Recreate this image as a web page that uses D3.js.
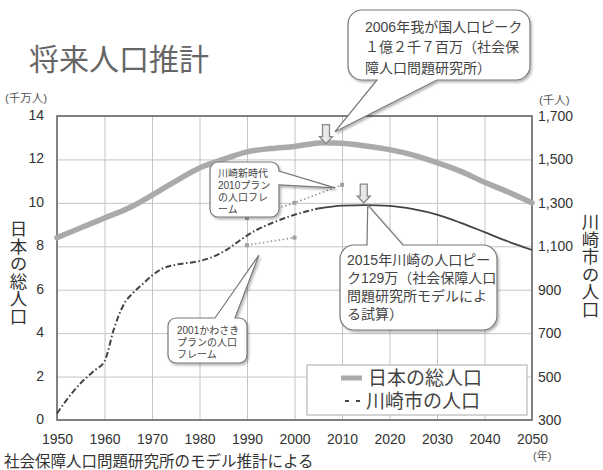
<!DOCTYPE html>
<html><head><meta charset="utf-8">
<script src="https://cdn.jsdelivr.net/npm/d3@7"></script>
<style>
body{margin:0;background:#fff}
svg{display:block}
text{font-family:"Liberation Sans","Noto Sans CJK JP",sans-serif;fill:#3c3c3c}
</style></head><body>
<svg id="chart" width="603" height="470"></svg>
<script>
// Axis ticks
const yearTicks = [1950,1960,1970,1980,1990,2000,2010,2020,2030,2040,2050];
const japanTicks = [0,2,4,6,8,10,12,14];           // 千万人
const kawasakiTicks = [300,500,700,900,1100,1300,1500,1700]; // 千人

// 日本の総人口 (千万人)
const japanYears  = [1950,1955,1960,1965,1970,1975,1980,1985,1990,1995,2000,2006,2010,2015,2020,2025,2030,2035,2040,2045,2050];
const japanValues = [8.4,8.85,9.3,9.75,10.35,11.0,11.6,12.0,12.35,12.5,12.6,12.77,12.75,12.62,12.45,12.2,11.85,11.45,10.95,10.5,10.0];

// 川崎市の人口 (千人) — 実績 (破線)
const kawasakiPastYears  = [1950,1953,1955,1958,1960,1962,1964,1966,1968,1970,1972,1975,1980,1983,1986,1989,1992,1995,2000,2005];
const kawasakiPastValues = [330,420,470,530,570,720,830,885,925,965,995,1015,1032,1053,1088,1135,1175,1205,1245,1274];
// 川崎市の人口 (千人) — 推計 (実線)
const kawasakiFutureYears  = [2005,2010,2015,2020,2025,2030,2035,2040,2045,2050];
const kawasakiFutureValues = [1274,1287,1290,1286,1271,1246,1208,1165,1122,1083];

// 計画の人口フレーム (千人)
const plan2010Years  = [1990,2000,2010];
const plan2010Values = [1230,1300,1383];
const plan2001Years  = [1990,2000];
const plan2001Values = [1105,1140];

// ピーク
const japanPeakYear = 2006, japanPeakValue = 12.77;
const kawasakiPeakYear = 2015, kawasakiPeakValue = 1290;

const svg = d3.select("#chart");
const L = 57, R = 532, T = 116, B = 420;

const x  = d3.scaleLinear().domain([1950,2050]).range([L,R]);
const yL = d3.scaleLinear().domain([0,14]).range([B,T]);
const yR = d3.scaleLinear().domain([300,1700]).range([B,T]);

const defs = svg.append("defs");
defs.append("filter").attr("id","shadow").attr("x","-10%").attr("y","-10%").attr("width","130%").attr("height","130%")
  .append("feDropShadow").attr("dx",1.5).attr("dy",2).attr("stdDeviation",1.3)
  .attr("flood-color","#000").attr("flood-opacity",0.28);

// Title
svg.append("text").attr("x",29).attr("y",70).attr("font-size",30)
  .style("fill","#666").text("将来人口推計");

// Grid + axes
const gx = svg.append("g").attr("transform",`translate(0,${B})`)
  .call(d3.axisBottom(x).tickValues(yearTicks).tickSize(-(B-T)).tickPadding(14).tickFormat(d3.format("d")));
const gl = svg.append("g").attr("transform",`translate(${L},0)`)
  .call(d3.axisLeft(yL).tickValues(japanTicks).tickSize(-(R-L)).tickPadding(13));
const gr = svg.append("g").attr("transform",`translate(${R},0)`)
  .call(d3.axisRight(yR).tickValues(kawasakiTicks).tickSize(0).tickPadding(6).tickFormat(d3.format(",")));
[gx,gl,gr].forEach(g=>{
  g.attr("font-family",null);
  g.select(".domain").remove();
  g.selectAll(".tick line").attr("stroke","#c4c4c4").attr("stroke-width",1);
  g.selectAll(".tick text").attr("font-size",14).style("fill","#333");
});
gl.selectAll(".tick text").attr("y",-1);
gr.selectAll(".tick text").attr("y",0);

// Plot frame
svg.append("rect").attr("x",L).attr("y",T).attr("width",R-L).attr("height",B-T)
  .attr("fill","none").attr("stroke","#777").attr("stroke-width",1.8);

// Units and axis titles
svg.append("text").attr("x",5).attr("y",102).attr("font-size",11.5).style("fill","#555").text("(千万人)");
svg.append("text").attr("x",539).attr("y",104).attr("font-size",11.5).style("fill","#555").text("(千人)");
svg.append("text").attr("x",533).attr("y",460).attr("font-size",11).style("fill","#555").text("(年)");
svg.append("text").attr("x",17).attr("y",220).attr("font-size",17.5)
  .style("writing-mode","vertical-rl").style("fill","#333").text("日本の総人口");
svg.append("text").attr("x",589).attr("y",213).attr("font-size",17.5)
  .style("writing-mode","vertical-rl").style("fill","#333").text("川崎市の人口");
svg.append("text").attr("x",4).attr("y",467).attr("font-size",15.5).style("fill","#333")
  .text("社会保障人口問題研究所のモデル推計による");

// Plan frames (dotted)
function planLine(yrs, vals){
  const pts = yrs.map((d,i)=>[x(d), yR(vals[i])]);
  svg.append("path").attr("d",d3.line()(pts)).attr("fill","none")
    .attr("stroke","#999").attr("stroke-width",1.6).attr("stroke-dasharray","1.6,2.4");
  svg.append("g").selectAll("rect").data(pts).join("rect")
    .attr("x",d=>d[0]-2).attr("y",d=>d[1]-2).attr("width",4).attr("height",4).attr("fill","#a0a0a0");
}
planLine(plan2010Years, plan2010Values);
planLine(plan2001Years, plan2001Values);

// Japan total population
svg.append("path")
  .attr("d", d3.line().curve(d3.curveMonotoneX)(japanYears.map((d,i)=>[x(d), yL(japanValues[i])])))
  .attr("fill","none").attr("stroke","#aaa").attr("stroke-width",5.5).attr("stroke-linecap","round");

// Kawasaki population
svg.append("path")
  .attr("d", d3.line().curve(d3.curveMonotoneX)(kawasakiPastYears.map((d,i)=>[x(d), yR(kawasakiPastValues[i])])))
  .attr("fill","none").attr("stroke","#444").attr("stroke-width",2).attr("stroke-dasharray","6,2.5,1.5,2.5");
svg.append("path")
  .attr("d", d3.line().curve(d3.curveMonotoneX)(kawasakiFutureYears.map((d,i)=>[x(d), yR(kawasakiFutureValues[i])])))
  .attr("fill","none").attr("stroke","#444").attr("stroke-width",1.8);

// Peak markers (hollow down arrows)
function downArrow(cx, tipY){
  const p = d3.path();
  p.moveTo(cx-3.5, tipY-19); p.lineTo(cx+3.5, tipY-19); p.lineTo(cx+3.5, tipY-7);
  p.lineTo(cx+6.5, tipY-7); p.lineTo(cx, tipY); p.lineTo(cx-6.5, tipY-7);
  p.lineTo(cx-3.5, tipY-7); p.closePath();
  svg.append("path").attr("d",p.toString()).attr("fill","#e8e8e8").attr("stroke","#888").attr("stroke-width",1.3);
}
downArrow(x(japanPeakYear)+3, yL(japanPeakValue)+1);
downArrow(x(kawasakiPeakYear)-2, yR(kawasakiPeakValue)-2);

// Speech-bubble callouts
function callout(box, r, side, base, tip, lines, fs, lh, tx, ty){
  const [x0,y0,x1,y1] = box;
  let d = `M${x0+r},${y0}`;
  if (side==="top") d += `H${base[0]}L${tip[0]},${tip[1]}L${base[1]},${y0}`;
  d += `H${x1-r}A${r},${r} 0 0 1 ${x1},${y0+r}`;
  if (side==="right") d += `V${base[0]}L${tip[0]},${tip[1]}L${x1},${base[1]}`;
  d += `V${y1-r}A${r},${r} 0 0 1 ${x1-r},${y1}`;
  if (side==="bottom") d += `H${base[1]}L${tip[0]},${tip[1]}L${base[0]},${y1}`;
  d += `H${x0+r}A${r},${r} 0 0 1 ${x0},${y1-r}V${y0+r}A${r},${r} 0 0 1 ${x0+r},${y0}Z`;
  svg.append("path").attr("d",d).attr("fill","#fff").attr("stroke","#777")
    .attr("stroke-width",1.2).attr("filter","url(#shadow)");
  svg.append("text").attr("font-size",fs).style("fill","#444")
    .selectAll("tspan").data(lines).join("tspan")
    .attr("x",tx).attr("y",(d,i)=>ty+i*lh).attr("dy","0.35em").text(d=>d);
}

callout([348,10,530,80], 14, "bottom", [377,437],
  [x(japanPeakYear)+12, yL(japanPeakValue)-11],
  ["2006年我が国人口ピーク","１億２千７百万（社会保","障人口問題研究所）"], 14, 20.5, 365, 27);

callout([210,162,279,217], 8, "right", [171,185],
  [x(2010)-7, yR(plan2010Values[2])+3],
  ["川崎新時代","2010プラン","の人口フレ","ーム"], 10, 12, 218, 173);

callout([168,318,247,363], 8, "top", [215,235],
  [x(1992.5), yR(plan2001Values[0])+10],
  ["2001かわさき","プランの人口","フレーム"], 10, 12, 177, 330);

callout([340,245,497,330], 14, "top", [367,403],
  [x(kawasakiPeakYear)+2, yR(kawasakiPeakValue)],
  ["2015年川崎の人口ピー","ク129万（社会保障人口","問題研究所モデルによ","る試算）"], 14, 18, 347, 260);

// Legend
const lg = svg.append("g");
lg.append("rect").attr("x",307).attr("y",365).attr("width",220).attr("height",50)
  .attr("fill","#fff").attr("stroke","#aaa").attr("stroke-width",1);
lg.append("line").attr("x1",341).attr("x2",362).attr("y1",378).attr("y2",378)
  .attr("stroke","#aaa").attr("stroke-width",5);
lg.append("text").attr("x",368).attr("y",378).attr("dy","0.35em").attr("font-size",19)
  .style("fill","#444").text("日本の総人口");
lg.append("line").attr("x1",345).attr("x2",364).attr("y1",401).attr("y2",401)
  .attr("stroke","#444").attr("stroke-width",2).attr("stroke-dasharray","4,7");
lg.append("text").attr("x",366).attr("y",401).attr("dy","0.35em").attr("font-size",19)
  .style("fill","#444").text("川崎市の人口");
</script>
</body></html>
